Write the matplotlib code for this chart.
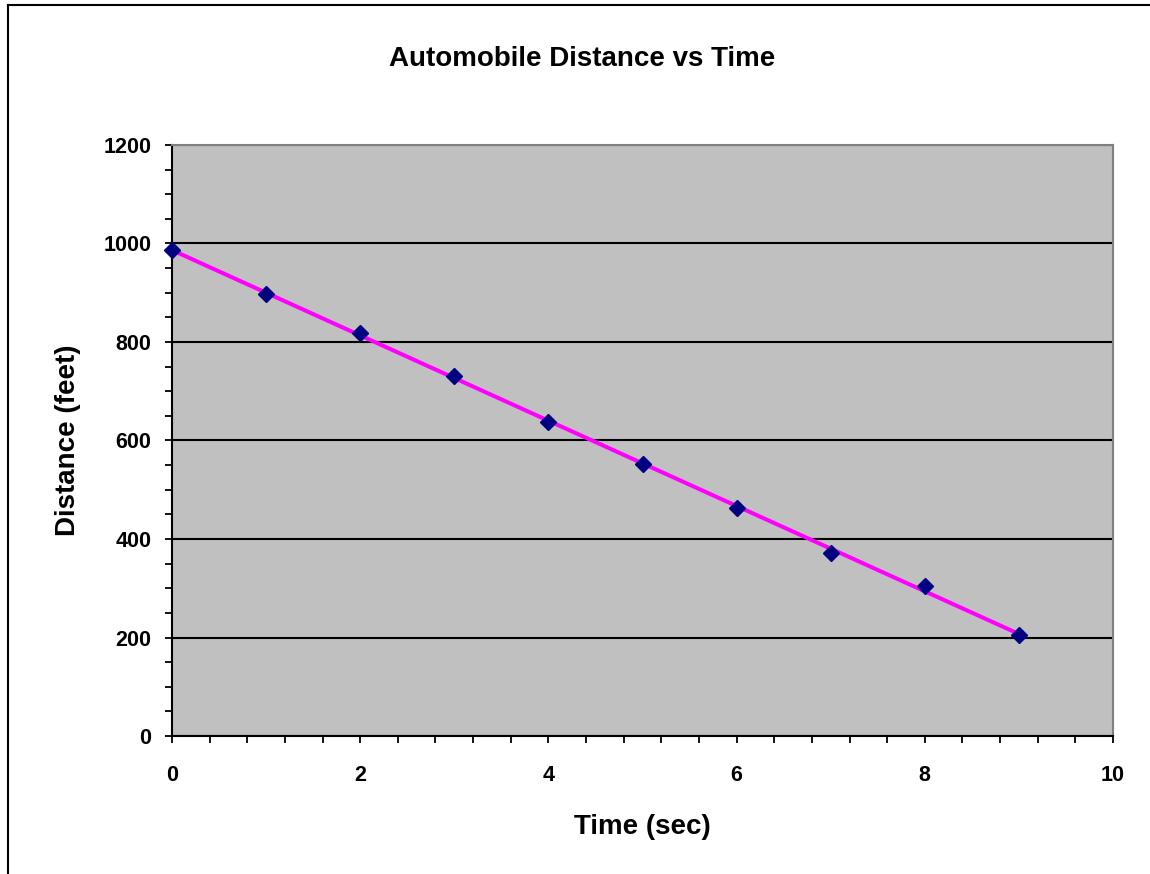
import matplotlib
matplotlib.use("Agg")
import matplotlib.pyplot as plt
import numpy as np
from matplotlib.ticker import MultipleLocator
from matplotlib.lines import Line2D

# data
time_sec = [0, 1, 2, 3, 4, 5, 6, 7, 8, 9]
distance_ft = [987, 897, 818, 730, 638, 553, 463, 372, 305, 206]
x_ticks = [0, 2, 4, 6, 8, 10]
y_ticks = [0, 200, 400, 600, 800, 1000, 1200]

plt.rcParams['font.family'] = ['Liberation Sans', 'DejaVu Sans']
plt.rcParams['font.weight'] = 'bold'

fig = plt.figure(figsize=(11.5, 8.74), dpi=100)
ax = fig.add_axes([172 / 1150, 1 - 736 / 874, (1113 - 172) / 1150, (736 - 145) / 874])
ax.set_facecolor('#C0C0C0')

# linear trend line through the points
slope, icpt = np.polyfit(time_sec, distance_ft, 1)
xs = np.array([time_sec[0], time_sec[-1]])
ax.plot(xs, slope * xs + icpt, color='#FF00FF', lw=2.9, zorder=3)
ax.plot(time_sec, distance_ft, ls='none', marker='D', ms=8.5,
        color='#000080', zorder=4, clip_on=False)

ax.set_xlim(0, 10)
ax.set_ylim(0, 1200)
ax.set_xticks(x_ticks)
ax.set_yticks(y_ticks)
ax.xaxis.set_minor_locator(MultipleLocator(0.4))
ax.yaxis.set_minor_locator(MultipleLocator(50))
ax.grid(axis='y', which='major', color='black', lw=1.5)
ax.set_axisbelow(True)

ax.tick_params(axis='both', which='both', direction='out', length=5,
               width=1.3, color='black', labelsize=15.5)
ax.tick_params(axis='x', which='major', pad=16)
ax.tick_params(axis='y', which='major', pad=10)
for lab in ax.get_xticklabels() + ax.get_yticklabels():
    lab.set_fontweight('bold')

for s in ['left', 'bottom']:
    ax.spines[s].set_color('black')
    ax.spines[s].set_linewidth(1.5)
for s in ['top', 'right']:
    ax.spines[s].set_color('#808080')
    ax.spines[s].set_linewidth(1.5)

ax.set_xlabel('Time (sec)', fontsize=20, fontweight='bold', labelpad=20)
ax.set_ylabel('Distance (feet)', fontsize=20, fontweight='bold', labelpad=16)
fig.text(0.506, 1 - 59 / 874, 'Automobile Distance vs Time', fontsize=20,
         fontweight='bold', ha='center', va='center')

# chart area border (top and left visible)
fig.add_artist(Line2D([8 / 1150, 8 / 1150], [0, 1 - 5 / 874], color='black', lw=1.5))
fig.add_artist(Line2D([8 / 1150, 1], [1 - 5 / 874, 1 - 5 / 874], color='black', lw=1.5))

fig.savefig('out.png', dpi=100)
